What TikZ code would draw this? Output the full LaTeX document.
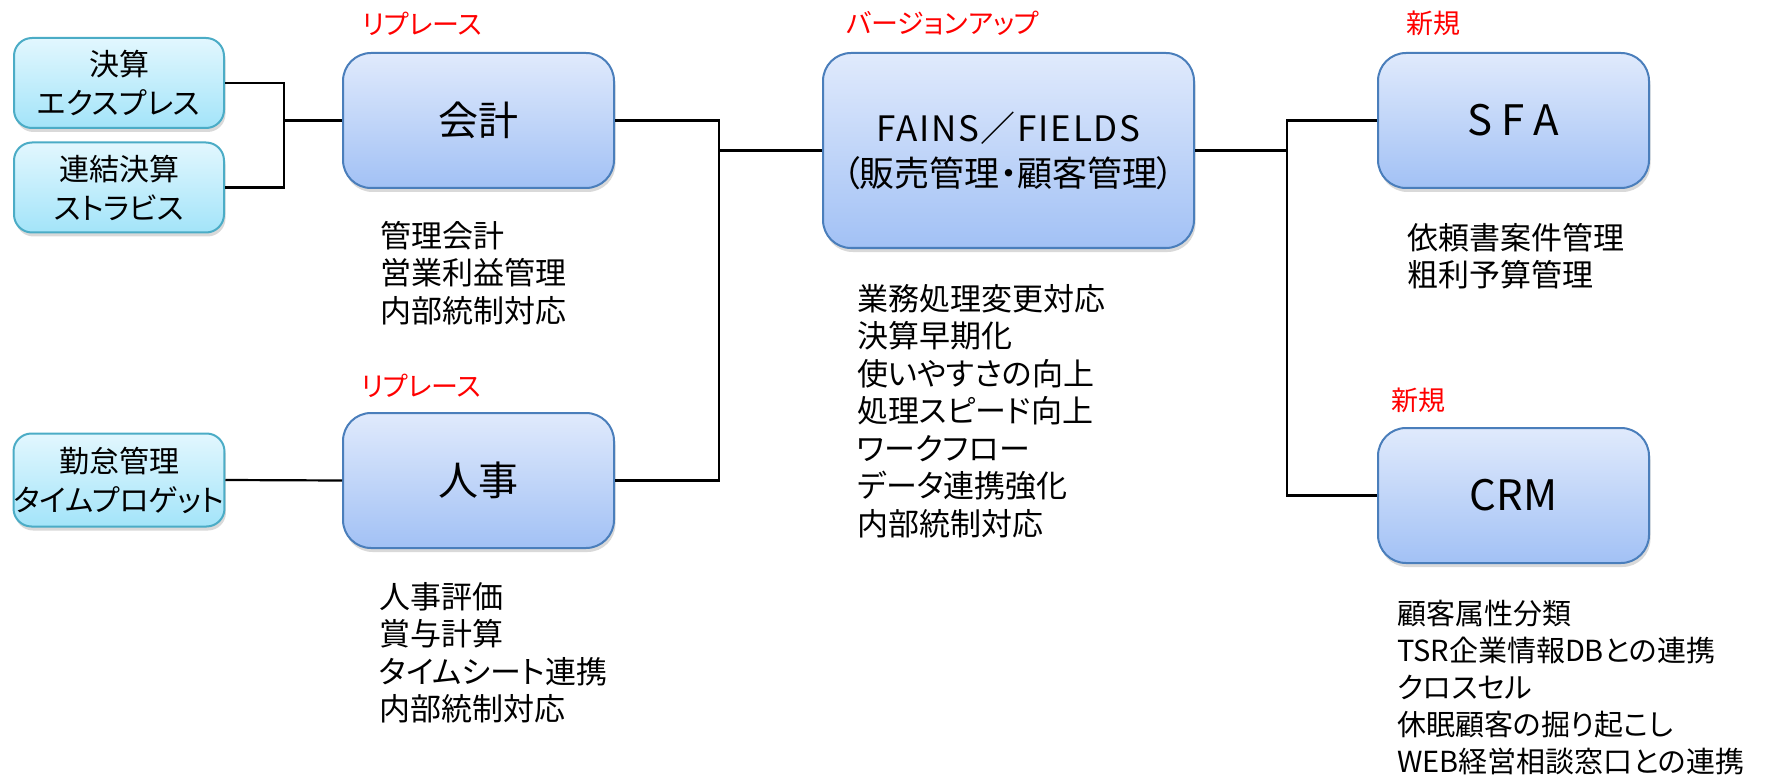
\documentclass[tikz,border=0pt]{standalone}
\usepackage{fontspec}
\setmainfont{Noto Sans CJK JP}[RawFeature=+palt]
\usepackage{tikz}
\usetikzlibrary{positioning,shadows}
\definecolor{blueTop}{HTML}{E0EAFC}
\definecolor{blueBottom}{HTML}{A2C1F5}
\definecolor{blueLine}{HTML}{4A7EBB}
\definecolor{cyanTop}{HTML}{E2F7FE}
\definecolor{cyanBottom}{HTML}{A3E4F9}
\definecolor{cyanLine}{HTML}{4BACC6}
\newlength{\mainWidth}
\setlength{\mainWidth}{271pt}
\newlength{\mainHeight}
\setlength{\mainHeight}{135pt}
\newlength{\subWidth}
\setlength{\subWidth}{210pt}
\newlength{\subHeight}
\setlength{\subHeight}{90pt}
\tikzset{mainbox/.style={shape=rectangle, draw=blueLine, line width=2pt, rounded corners=28pt, top color=blueTop, bottom color=blueBottom, minimum width=\mainWidth, minimum height=\mainHeight, inner sep=0pt, align=center, drop shadow={shadow xshift=1.5pt, shadow yshift=-4pt, opacity=0.3}, font=\fontsize{40pt}{48pt}\selectfont}}
\tikzset{subbox/.style={shape=rectangle, draw=cyanLine, line width=2pt, rounded corners=18pt, top color=cyanTop, bottom color=cyanBottom, minimum width=\subWidth, minimum height=\subHeight, inner sep=0pt, align=center, drop shadow={shadow xshift=1.5pt, shadow yshift=-4pt, opacity=0.3}, font=\fontsize{30pt}{39pt}\selectfont}}
\tikzset{notes/.style={inner sep=0pt, align=left, font=\fontsize{31pt}{37.5pt}\selectfont}}
\tikzset{tag/.style={inner sep=0pt, text=red, font=\fontsize{27pt}{30pt}\selectfont}}
\tikzset{link/.style={line width=2.2pt}}

\begin{document}
\begin{tikzpicture}[x=1pt,y=-1pt]
\useasboundingbox (0,0) rectangle (1783,778);
% systems
\node[mainbox] (kaikei) at (478.5,120.5) {会計};
\node[mainbox] (jinji) at (478.5,480.5) {人事};
\node[mainbox, minimum width=371pt, minimum height=195pt, font=\fontsize{35pt}{45pt}\selectfont] (fains) at (1008.5,150.5) {{\addfontfeature{LetterSpace=5}FAINS／FIELDS}\\（販売管理・顧客管理）};
\node[mainbox, font=\fontsize{42pt}{48pt}\selectfont] (sfa) at (1513.5,120.5) {S\hspace{9pt}F\hspace{9pt}A};
\node[mainbox, font=\fontsize{42pt}{48pt}\selectfont] (crm) at (1513.5,495.5) {CRM};
\node[subbox] (kessan) at (119,83) {決算\\エクスプレス};
\node[subbox] (renketsu) at (119,187.5) {連結決算\\ストラビス};
\node[subbox, minimum height=93pt] (kintai) at (119,480) {勤怠管理\\タイムプロゲット};
% tags
\node[tag, above right=16pt and 20pt of kaikei.north west] (kaikeiTag) {リプレース};
\node[tag, above right=14pt and 19pt of jinji.north west] (jinjiTag) {リプレース};
\node[tag, above right=16pt and 24pt of fains.north west] (fainsTag) {バージョンアップ};
\node[tag, above right=16pt and 29pt of sfa.north west] (sfaTag) {新規};
\node[tag, above right=14pt and 14pt of crm.north west] (crmTag) {新規};
% notes
\node[notes, below right=32pt and 38pt of kaikei.south west] (kaikeiNotes) {管理会計\\営業利益管理\\内部統制対応};
\node[notes, below right=33pt and 37pt of jinji.south west] (jinjiNotes) {人事評価\\賞与計算\\タイムシート連携\\内部統制対応};
\node[notes, below right=35pt and 35pt of fains.south west] (fainsNotes) {業務処理変更対応\\決算早期化\\使いやすさの向上\\処理スピード向上\\ワークフロー\\データ連携強化\\内部統制対応};
\node[notes, below right=34pt and 30pt of sfa.south west] (sfaNotes) {依頼書案件管理\\粗利予算管理};
\node[notes, below right=36pt and 20pt of crm.south west, font=\fontsize{29pt}{37pt}\selectfont] (crmNotes) {顧客属性分類\\TSR企業情報DBとの連携\\クロスセル\\休眠顧客の掘り起こし\\WEB経営相談窓口との連携};
% links
\coordinate (leftJoin) at (284,120.5);
\coordinate (midJoin) at (719,150.5);
\coordinate (rightJoin) at (1287,150.5);
\draw[link] (kessan.east) -| (leftJoin) |- (renketsu.east);
\draw[link] (leftJoin) -- (kaikei.west);
\draw[link] (kintai.east) -- (jinji.west);
\draw[link] (kaikei.east) -| (midJoin) |- (jinji.east);
\draw[link] (midJoin) -- (fains.west);
\draw[link] (fains.east) -- (rightJoin);
\draw[link] (sfa.west) -| (rightJoin) |- (crm.west);
\end{tikzpicture}
\end{document}
